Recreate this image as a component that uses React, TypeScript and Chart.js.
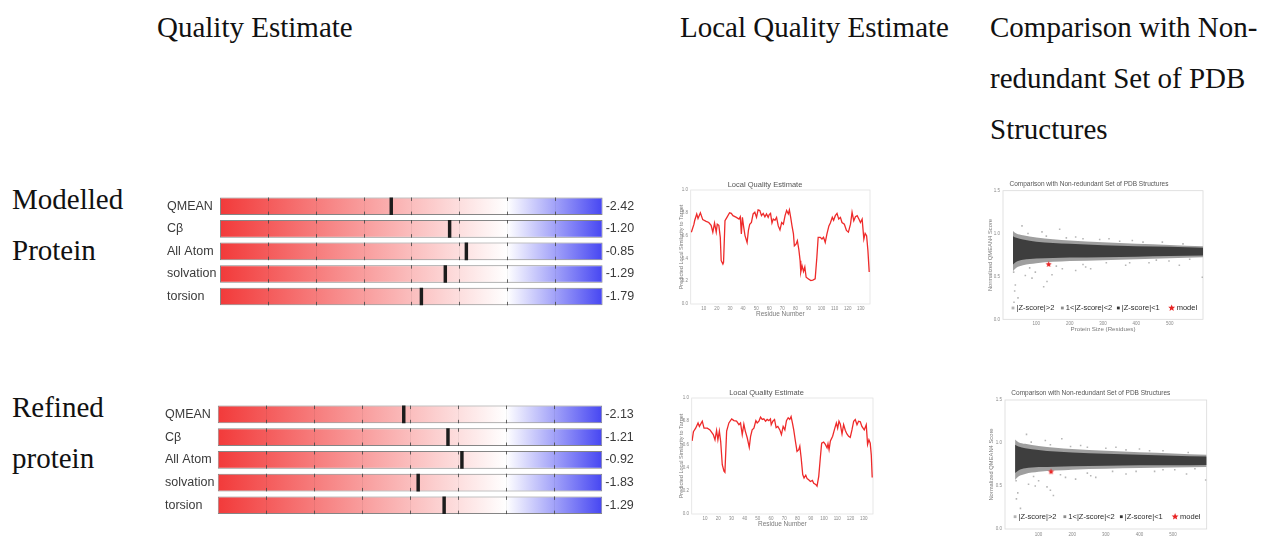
import React, { useEffect, useRef } from 'react';
import { Chart, registerables } from 'chart.js';

Chart.register(...registerables);

const SANS = '"Liberation Sans", Arial, Helvetica, sans-serif';
const SERIF = '"Liberation Serif", "Times New Roman", Times, serif';
Chart.defaults.font.family = SANS;

// ---------- QMEAN Z-score sliders ----------
const termLabels = ['QMEAN', 'Cβ', 'All Atom', 'solvation', 'torsion'];
const modelledZ = [-2.42, -1.2, -0.85, -1.29, -1.79];
const refinedZ = [-2.13, -1.21, -0.92, -1.83, -1.29];
const sliderRange = [-6, 2];
const sliderTicks = [-5, -4, -3, -2, -1, 0, 1];

// ---------- Local quality estimate ----------
const localTicksX = [10, 20, 30, 40, 50, 60, 70, 80, 90, 100, 110, 120, 130];
const localTicksY = [0, 0.2, 0.4, 0.6, 0.8, 1.0];

const modelledResidue = [
  0.5, 2.5, 3, 4.6, 5.6, 7.4, 9.2, 11.8, 13.8, 15.6, 16.9, 18.2, 19.5, 20.3, 21.5, 22.6, 23.3, 24.6, 25.1,
  26.2, 27.7, 29.7, 31, 32.3, 34.9, 36.9, 37.9, 38.7, 39.5, 40.5, 41.5, 43.1, 44.1, 45.1, 46.4, 47.7, 49,
  50.3, 51.5, 52.8, 54.1, 55.4, 56.7, 57.9, 59.2, 60, 61, 62.1, 63.1, 64.4, 65.6, 66.9, 68.2, 69.5, 70.8,
  72.1, 73.3, 74.6, 75.4, 76.4, 77.4, 78.5, 79.2, 80.5, 81.5, 82.6, 83.6, 84.1, 85.1, 86.2, 87.2, 88.2, 90,
  91.8, 93.3, 95.1, 96.4, 97.4, 99, 100.3, 101.5, 102.8, 104.1, 105.6, 106.7, 108.2, 109.2, 110.5, 111.8,
  113.1, 114.4, 115.6, 117.4, 119, 120.5, 122.1, 123.3, 124.6, 125.9, 127.2, 128.5, 129.7, 131, 132.3,
  133.3, 134.4, 135.4, 136.4,
];
const modelledLocal = [
  0.63, 0.7, 0.73, 0.79, 0.75, 0.8, 0.74, 0.725, 0.715, 0.69, 0.63, 0.71, 0.63, 0.7, 0.69, 0.585, 0.38, 0.35, 0.365,
  0.73, 0.76, 0.8, 0.795, 0.775, 0.76, 0.745, 0.765, 0.615, 0.76, 0.675, 0.6, 0.54, 0.645, 0.7, 0.715, 0.79, 0.805,
  0.76, 0.825, 0.82, 0.775, 0.795, 0.765, 0.79, 0.76, 0.785, 0.795, 0.71, 0.745, 0.735, 0.76, 0.685, 0.65, 0.715, 0.7,
  0.775, 0.82, 0.79, 0.825, 0.76, 0.685, 0.615, 0.51, 0.525, 0.555, 0.48, 0.38, 0.28, 0.335, 0.285, 0.325, 0.235, 0.22,
  0.205, 0.21, 0.22, 0.41, 0.585, 0.585, 0.57, 0.585, 0.54, 0.615, 0.685, 0.71, 0.76, 0.735, 0.775, 0.795,
  0.745, 0.76, 0.715, 0.7, 0.645, 0.63, 0.7, 0.805, 0.73, 0.765, 0.775, 0.745, 0.715, 0.745, 0.57,
  0.62, 0.6, 0.47, 0.28,
];

const refinedResidue = [
  0.3, 1.3, 3, 4.8, 5.8, 8, 9.3, 11.8, 13.8, 16.3, 17.6, 18.8, 19.8, 20.9, 21.9, 23.1, 24.4, 25.1, 26.4, 28.1,
  30.2, 31.9, 33.9, 35.7, 36.9, 38.2, 39.4, 40.5, 42, 43.5, 44.5, 45.7, 47, 48.5, 49.5, 50.8, 52, 53.3, 54.5,
  55.8, 57, 58.3, 59.5, 60.1, 61.3, 62.6, 63.8, 65.1, 66.6, 67.8, 69.1, 70.4, 71.6, 72.9, 74.1, 75.1, 76.1,
  77.1, 78.4, 79.6, 80.9, 81.7, 82.7, 83.9, 84.9, 86.2, 87.2, 88.4, 89.7, 91.2, 92.2, 93.7, 94.7, 96, 97.2,
  98.2, 99.7, 101, 102.3, 103, 103.8, 104.8, 106.5, 107.8, 109.3, 110.3, 111.3, 112.3, 113.6, 114.8, 116.1,
  117.3, 118.6, 119.8, 121.1, 122.4, 123.6, 124.9, 126.1, 127.4, 128.6, 130.4, 131.9, 132.9, 133.9, 134.9,
  135.7, 136.4,
];
const refinedLocal = [
  0.63, 0.71, 0.74, 0.785, 0.755, 0.8, 0.74, 0.74, 0.725, 0.685, 0.64, 0.72, 0.64, 0.715, 0.625, 0.425, 0.37, 0.36, 0.715, 0.785,
  0.82, 0.805, 0.8, 0.77, 0.785, 0.685, 0.775, 0.715, 0.655, 0.575, 0.67, 0.725, 0.74, 0.805, 0.785, 0.8, 0.835, 0.815, 0.82,
  0.8, 0.815, 0.805, 0.82, 0.77, 0.8, 0.815, 0.745, 0.755, 0.725, 0.685, 0.755, 0.725, 0.805, 0.83, 0.815, 0.84, 0.785,
  0.725, 0.625, 0.54, 0.555, 0.585, 0.485, 0.34, 0.31, 0.335, 0.305, 0.295, 0.28, 0.29, 0.265, 0.255, 0.24, 0.325, 0.485,
  0.61, 0.62, 0.6, 0.57, 0.605, 0.555, 0.63, 0.67, 0.725, 0.785, 0.74, 0.8, 0.775, 0.69, 0.77, 0.72,
  0.69, 0.67, 0.66, 0.725, 0.8, 0.815, 0.77, 0.8, 0.795, 0.755, 0.725, 0.77, 0.6, 0.64, 0.61,
  0.51, 0.315,
];

// ---------- Comparison with non-redundant PDB set ----------
const sizeTicks = [100, 200, 300, 400, 500];
const scoreTicks = [0, 0.5, 1.0, 1.5];
const cloudSize = [30, 40, 60, 100, 150, 200, 300, 400, 500, 600];

const modelledDarkUpper = [0.97, 0.95, 0.93, 0.905, 0.89, 0.88, 0.865, 0.853, 0.845, 0.835];
const modelledDarkLower = [0.64, 0.67, 0.695, 0.71, 0.715, 0.72, 0.725, 0.73, 0.738, 0.745];
const modelledLightUpper = [1.03, 1.0, 0.98, 0.955, 0.935, 0.92, 0.9, 0.882, 0.868, 0.852];
const modelledLightLower = [0.56, 0.6, 0.63, 0.655, 0.67, 0.68, 0.69, 0.7, 0.712, 0.725];
const modelledOutlierSize = [
  57, 170, 117, 218, 318, 388, 478, 37, 35, 45, 122, 147, 87, 218, 263, 368, 438, 498, 529, 598, 32, 67, 97, 178, 248, 132, 33,
  75, 130, 190, 240, 290, 350, 420, 540, 80, 160, 240, 310, 380, 460, 560,
];
const modelledOutlierScore = [
  1.09, 1.05, 1.02, 0.96, 0.94, 0.92, 0.9, 0.4, 0.33, 0.25, 0.38, 0.52, 0.48, 0.57, 0.59, 0.63, 0.66, 0.68, 0.63, 0.49, 0.55, 0.51, 0.55, 0.59, 0.61, 0.44, 0.2,
  1.0, 0.97, 0.95, 0.94, 0.93, 0.91, 0.9, 0.88, 0.6, 0.62, 0.64, 0.66, 0.66, 0.69, 0.7,
];
const modelledModel = [137, 0.64];

const refinedDarkUpper = [0.98, 0.96, 0.94, 0.92, 0.9, 0.89, 0.875, 0.862, 0.852, 0.842];
const refinedDarkLower = [0.65, 0.68, 0.705, 0.72, 0.725, 0.73, 0.735, 0.74, 0.742, 0.745];
const refinedLightUpper = [1.04, 1.01, 0.99, 0.965, 0.945, 0.93, 0.91, 0.892, 0.878, 0.862];
const refinedLightLower = [0.57, 0.61, 0.64, 0.665, 0.68, 0.69, 0.7, 0.708, 0.715, 0.722];
const refinedOutlierSize = [
  64, 169, 120, 225, 330, 400, 470, 34, 46, 144, 125, 90, 210, 270, 360, 445, 505, 540, 597, 33, 70, 100, 180, 255, 38, 135,
  78, 135, 195, 245, 300, 360, 430, 545, 85, 165, 245, 320, 390, 470, 565,
];
const refinedOutlierScore = [
  1.1, 1.05, 1.03, 0.97, 0.95, 0.93, 0.91, 0.35, 0.24, 0.39, 0.49, 0.5, 0.58, 0.6, 0.64, 0.67, 0.69, 0.64, 0.57, 0.56, 0.52, 0.56, 0.6, 0.62, 0.42, 0.45,
  1.01, 0.98, 0.96, 0.95, 0.94, 0.92, 0.91, 0.89, 0.61, 0.63, 0.65, 0.67, 0.67, 0.69, 0.7,
];
const refinedModel = [137, 0.665];

const zLegendLabels = ['|Z-score|>2', '1<|Z-score|<2', '|Z-score|<1', 'model'];
const zLegendColors = ['#b4b4b4', '#8c8c8c', '#333333', '#e82424'];
const zLegendAt = [30, 178, 346, 506];

// ---------- helpers ----------
type Box = { left: number; top: number; width: number; height: number };

function starPath(ctx: CanvasRenderingContext2D, cx: number, cy: number, r: number) {
  ctx.beginPath();
  for (let i = 0; i < 10; i++) {
    const rad = i % 2 === 0 ? r : r * 0.45;
    const a = -Math.PI / 2 + (i * Math.PI) / 5;
    ctx.lineTo(cx + Math.cos(a) * rad, cy + Math.sin(a) * rad);
  }
  ctx.closePath();
}

function starImage(r: number, color: string) {
  const c = document.createElement('canvas');
  const s = Math.ceil(r * 2) + 2;
  c.width = s;
  c.height = s;
  const g = c.getContext('2d')!;
  starPath(g, s / 2, s / 2, r);
  g.fillStyle = color;
  g.fill();
  return c;
}

const plotFrame = {
  id: 'plotFrame',
  beforeDatasetsDraw(chart: any, _a: any, opts: any) {
    const { ctx, chartArea: a } = chart;
    ctx.save();
    ctx.strokeStyle = opts.color || '#dddddd';
    ctx.lineWidth = 0.8;
    ctx.strokeRect(a.left, a.top, a.right - a.left, a.bottom - a.top);
    ctx.restore();
  },
};

const sliderMarks = {
  id: 'sliderMarks',
  afterDatasetDraw(chart: any, args: any) {
    if (args.index !== 1) return;
    const { ctx } = chart;
    const xs = chart.scales.x;
    args.meta.data.forEach((el: any) => {
      const { y, height } = el.getProps(['y', 'height'], true);
      const top = y - height / 2;
      const bottom = y + height / 2;
      sliderTicks.forEach((v) => {
        const px = Math.round(xs.getPixelForValue(v)) + 0.5;
        ctx.save();
        ctx.lineWidth = 1;
        ctx.strokeStyle = 'rgba(0,0,0,0.05)';
        ctx.beginPath();
        ctx.moveTo(px, top + 3.5);
        ctx.lineTo(px, bottom - 3.5);
        ctx.stroke();
        ctx.strokeStyle = 'rgba(70,70,70,0.85)';
        ctx.beginPath();
        ctx.moveTo(px, top);
        ctx.lineTo(px, top + 3.5);
        ctx.moveTo(px, bottom - 3.5);
        ctx.lineTo(px, bottom);
        ctx.stroke();
        ctx.restore();
      });
    });
  },
};

const zLegend = {
  id: 'zLegend',
  afterDatasetsDraw(chart: any, _a: any, opts: any) {
    const { ctx } = chart;
    const { x, y } = chart.scales;
    const py = y.getPixelForValue(opts.level);
    ctx.save();
    ctx.font = `7.5px ${SANS}`;
    ctx.textBaseline = 'middle';
    ctx.textAlign = 'left';
    zLegendLabels.forEach((label, i) => {
      const px = x.getPixelForValue(zLegendAt[i]);
      ctx.fillStyle = zLegendColors[i];
      if (i === 3) {
        starPath(ctx, px, py, 3.6);
        ctx.fill();
      } else {
        ctx.fillRect(px - 1.4, py - 1.4, 2.8, 2.8);
      }
      ctx.fillStyle = '#2a2a2a';
      ctx.fillText(label, px + (i === 3 ? 5 : 3.5), py + 0.3);
    });
    ctx.restore();
  },
};

function sliderFill(chart: any) {
  const xs = chart.scales && chart.scales.x;
  if (!xs || !chart.chartArea) return '#f5a0a0';
  const g = chart.ctx.createLinearGradient(xs.getPixelForValue(sliderRange[0]), 0, xs.getPixelForValue(sliderRange[1]), 0);
  g.addColorStop(0, 'rgb(242,58,58)');
  g.addColorStop(0.75, '#ffffff');
  g.addColorStop(1, 'rgb(70,70,242)');
  return g;
}

function qmeanConfig(z: number[], lay: { padLeft: number; padTop: number; padBottom: number; leftW: number; rightW: number }) {
  return {
    type: 'bar',
    data: {
      labels: termLabels,
      datasets: [
        {
          label: 'Z-score',
          data: z.map((v) => [v - 0.036, v + 0.036]),
          backgroundColor: '#1c1c1c',
          borderWidth: 0,
          grouped: false,
          order: 0,
          barPercentage: 0.78,
          categoryPercentage: 1,
        },
        {
          label: 'scale',
          data: z.map(() => [sliderRange[0], sliderRange[1]]),
          backgroundColor: (c: any) => sliderFill(c.chart),
          borderColor: '#858585',
          borderWidth: 1,
          borderSkipped: false,
          grouped: false,
          order: 1,
          barPercentage: 0.78,
          categoryPercentage: 1,
        },
      ],
    },
    options: {
      indexAxis: 'y',
      responsive: false,
      animation: false,
      layout: { padding: { left: lay.padLeft, top: lay.padTop, bottom: lay.padBottom, right: 0 } },
      plugins: { legend: { display: false }, tooltip: { enabled: false }, title: { display: false } },
      scales: {
        x: { type: 'linear', min: sliderRange[0], max: sliderRange[1], display: false },
        y: {
          type: 'category',
          ticks: { crossAlign: 'far', color: '#3a3a3a', font: { family: SANS, size: 12.5 }, padding: 0 },
          grid: { display: false, drawTicks: false },
          border: { display: false },
          afterFit: (s: any) => {
            s.width = lay.leftW;
            s.paddingTop = 0;
            s.paddingBottom = 0;
          },
        },
        y2: {
          type: 'category',
          position: 'right',
          offset: true,
          labels: z.map((v) => v.toFixed(2)),
          ticks: { color: '#3a3a3a', font: { family: SANS, size: 12.5 }, padding: 3 },
          grid: { display: false, drawTicks: false },
          border: { display: false },
          afterFit: (s: any) => {
            s.width = lay.rightW;
            s.paddingTop = 0;
            s.paddingBottom = 0;
          },
        },
      },
    },
    plugins: [sliderMarks],
  };
}

function localConfig(res: number[], vals: number[], lay: { yW: number; yTitlePad: number; padRight: number; xMax: number }) {
  return {
    type: 'line',
    data: {
      datasets: [
        {
          label: 'Local quality',
          data: res.map((x, i) => ({ x, y: vals[i] })),
          borderColor: 'rgb(238,42,42)',
          borderWidth: 1.3,
          pointRadius: 0,
          tension: 0,
          fill: false,
        },
      ],
    },
    options: {
      responsive: false,
      animation: false,
      layout: { padding: { left: 0, right: lay.padRight, top: 0, bottom: 8 } },
      plugins: {
        legend: { display: false },
        tooltip: { enabled: false },
        title: {
          display: true,
          text: 'Local Quality Estimate',
          color: '#555555',
          font: { family: SANS, size: 7.5, weight: 'normal' },
          padding: { top: 4.5, bottom: 0.5 },
        },
        plotFrame: { color: '#e2e2e2' },
      },
      scales: {
        x: {
          type: 'linear',
          min: 0,
          max: lay.xMax,
          afterBuildTicks: (s: any) => {
            s.ticks = localTicksX.map((v) => ({ value: v }));
          },
          ticks: { color: '#8a8a8a', font: { size: 4.5 }, padding: 1.6, maxRotation: 0, autoSkip: false },
          grid: { display: false, drawTicks: false },
          border: { display: false },
          title: { display: true, text: 'Residue Number', color: '#7a7a7a', font: { size: 6.5 }, padding: 0 },
          afterFit: (s: any) => {
            s.height = 14;
            s.paddingLeft = 0;
            s.paddingRight = 0;
          },
        },
        y: {
          type: 'linear',
          min: 0,
          max: 1,
          afterBuildTicks: (s: any) => {
            s.ticks = localTicksY.map((v) => ({ value: v }));
          },
          ticks: { color: '#8a8a8a', font: { size: 4.5 }, padding: 2.7, callback: (v: any) => Number(v).toFixed(1) },
          grid: { display: false, drawTicks: false },
          border: { display: false },
          title: {
            display: true,
            text: 'Predicted Local Similarity to Target',
            color: '#7a7a7a',
            font: { size: 5.5 },
            padding: { top: lay.yTitlePad, bottom: 0 },
          },
          afterFit: (s: any) => {
            s.width = lay.yW;
            s.paddingTop = 0;
            s.paddingBottom = 0;
          },
        },
      },
    },
    plugins: [plotFrame],
  };
}

function pdbConfig(
  set: {
    darkUpper: number[];
    darkLower: number[];
    lightUpper: number[];
    lightLower: number[];
    outSize: number[];
    outScore: number[];
    model: number[];
  },
  lay: { yW: number; yTitlePad: number; padRight: number; titleTop: number; titleBottom: number; xH: number; xTickPad: number; padBottom: number; legendLevel: number }
) {
  const pts = (xs: number[], ys: number[]) => xs.map((x, i) => ({ x, y: ys[i] }));
  const band = { borderColor: 'rgba(0,0,0,0)', borderWidth: 0, pointRadius: 0, cubicInterpolationMode: 'monotone' };
  return {
    type: 'line',
    data: {
      datasets: [
        {
          label: 'model',
          data: [{ x: set.model[0], y: set.model[1] }],
          showLine: false,
          pointStyle: starImage(3.2, '#e82424'),
          pointRadius: 4,
          order: 0,
        },
        { label: '|Z-score|<1', data: pts(cloudSize, set.darkUpper), fill: '+1', backgroundColor: '#3e3e3e', order: 2, ...band },
        { label: '|Z-score|<1 lower', data: pts(cloudSize, set.darkLower), fill: false, order: 2, ...band },
        { label: '1<|Z-score|<2', data: pts(cloudSize, set.lightUpper), fill: '+1', backgroundColor: '#9f9f9f', order: 3, ...band },
        { label: '1<|Z-score|<2 lower', data: pts(cloudSize, set.lightLower), fill: false, order: 3, ...band },
        {
          label: '|Z-score|>2',
          data: pts(set.outSize, set.outScore),
          showLine: false,
          pointStyle: 'rect',
          pointRadius: 1.1,
          backgroundColor: '#b6b6b6',
          borderColor: '#b6b6b6',
          borderWidth: 0,
          order: 4,
        },
      ],
    },
    options: {
      responsive: false,
      animation: false,
      layout: { padding: { left: 0, right: lay.padRight, top: 0, bottom: lay.padBottom } },
      plugins: {
        legend: { display: false },
        tooltip: { enabled: false },
        title: {
          display: true,
          text: 'Comparison with Non-redundant Set of PDB Structures',
          color: '#555555',
          font: { family: SANS, size: 6.5, weight: 'normal' },
          padding: { top: lay.titleTop, bottom: lay.titleBottom },
        },
        plotFrame: { color: '#d9d9d9' },
        zLegend: { level: lay.legendLevel },
      },
      scales: {
        x: {
          type: 'linear',
          min: 0,
          max: 600,
          afterBuildTicks: (s: any) => {
            s.ticks = sizeTicks.map((v) => ({ value: v }));
          },
          ticks: { color: '#8a8a8a', font: { size: 4.5 }, padding: lay.xTickPad, maxRotation: 0, autoSkip: false },
          grid: { display: false, drawTicks: false },
          border: { display: false },
          title: { display: true, text: 'Protein Size (Residues)', color: '#7a7a7a', font: { size: 6.2 }, padding: 0 },
          afterFit: (s: any) => {
            s.height = lay.xH;
            s.paddingLeft = 0;
            s.paddingRight = 0;
          },
        },
        y: {
          type: 'linear',
          min: 0,
          max: 1.5,
          afterBuildTicks: (s: any) => {
            s.ticks = scoreTicks.map((v) => ({ value: v }));
          },
          ticks: { color: '#8a8a8a', font: { size: 4.5 }, padding: 3, callback: (v: any) => Number(v).toFixed(1) },
          grid: { display: false, drawTicks: false },
          border: { display: false },
          title: {
            display: true,
            text: 'Normalized QMEAN4 Score',
            color: '#7a7a7a',
            font: { size: 5.8 },
            padding: { top: lay.yTitlePad, bottom: 0 },
          },
          afterFit: (s: any) => {
            s.width = lay.yW;
            s.paddingTop = 0;
            s.paddingBottom = 0;
          },
        },
      },
    },
    plugins: [plotFrame, zLegend],
  };
}

function ChartBox({ box, make }: { box: Box; make: () => any }) {
  const ref = useRef<HTMLCanvasElement | null>(null);
  useEffect(() => {
    if (!ref.current) return;
    const chart = new Chart(ref.current, make());
    return () => chart.destroy();
  }, []);
  return (
    <canvas
      ref={ref}
      width={box.width}
      height={box.height}
      style={{ position: 'absolute', left: box.left, top: box.top, width: box.width, height: box.height, display: 'block' }}
    />
  );
}

const headingLines = [
  { text: 'Quality Estimate', left: 157, base: 37 },
  { text: 'Local Quality Estimate', left: 680, base: 37 },
  { text: 'Comparison with Non-', left: 990, base: 37 },
  { text: 'redundant Set of PDB', left: 990, base: 88 },
  { text: 'Structures', left: 990, base: 139 },
  { text: 'Modelled', left: 12, base: 209 },
  { text: 'Protein', left: 12, base: 260 },
  { text: 'Refined', left: 12, base: 417 },
  { text: 'protein', left: 12, base: 468 },
];

export default function App() {
  return (
    <div
      style={{
        position: 'absolute',
        left: 0,
        top: 0,
        width: 1265,
        height: 538,
        overflow: 'hidden',
        background: '#ffffff',
      }}
    >
      {headingLines.map((h) => (
        <div
          key={h.text}
          style={{
            position: 'absolute',
            left: h.left,
            top: h.base - 24.3,
            fontFamily: SERIF,
            fontSize: 29,
            lineHeight: '29px',
            color: '#111111',
            whiteSpace: 'nowrap',
          }}
        >
          {h.text}
        </div>
      ))}

      <ChartBox
        box={{ left: 160, top: 190, width: 490, height: 122 }}
        make={() => qmeanConfig(modelledZ, { padLeft: 7, padTop: 5, padBottom: 4.2, leftW: 53, rightW: 47.3 })}
      />
      <ChartBox
        box={{ left: 158, top: 398, width: 492, height: 125 }}
        make={() => qmeanConfig(refinedZ, { padLeft: 7, padTop: 5.1, padBottom: 6.4, leftW: 52.7, rightW: 47.7 })}
      />

      <ChartBox
        box={{ left: 660, top: 176, width: 230, height: 150 }}
        make={() => localConfig(modelledResidue, modelledLocal, { yW: 30.7, yTitlePad: 18.4, padRight: 20, xMax: 137 })}
      />
      <ChartBox
        box={{ left: 660, top: 384, width: 240, height: 152 }}
        make={() => localConfig(refinedResidue, refinedLocal, { yW: 31.7, yTitlePad: 17.7, padRight: 27, xMax: 137 })}
      />

      <ChartBox
        box={{ left: 975, top: 176, width: 250, height: 161 }}
        make={() =>
          pdbConfig(
            {
              darkUpper: modelledDarkUpper,
              darkLower: modelledDarkLower,
              lightUpper: modelledLightUpper,
              lightLower: modelledLightLower,
              outSize: modelledOutlierSize,
              outScore: modelledOutlierScore,
              model: modelledModel,
            },
            { yW: 28, yTitlePad: 11.5, padRight: 22, titleTop: 4.5, titleBottom: 2.4, xH: 13.7, xTickPad: 1.6, padBottom: 4, legendLevel: 0.132 }
          )
        }
      />
      <ChartBox
        box={{ left: 975, top: 385, width: 255, height: 164 }}
        make={() =>
          pdbConfig(
            {
              darkUpper: refinedDarkUpper,
              darkLower: refinedDarkLower,
              lightUpper: refinedLightUpper,
              lightLower: refinedLightLower,
              outSize: refinedOutlierSize,
              outScore: refinedOutlierScore,
              model: refinedModel,
            },
            { yW: 30, yTitlePad: 13.2, padRight: 23.3, titleTop: 4.1, titleBottom: 3.1, xH: 17.7, xTickPad: 3.3, padBottom: 2.3, legendLevel: 0.143 }
          )
        }
      />
    </div>
  );
}
